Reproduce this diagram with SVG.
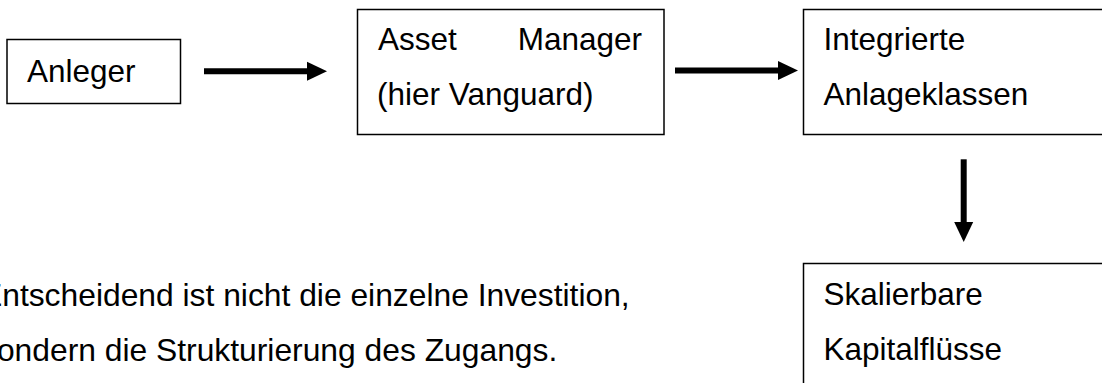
<svg xmlns="http://www.w3.org/2000/svg" width="1102" height="383" viewBox="0 0 1102 383">
  <style>
    .box { fill: #ffffff; stroke: #000000; stroke-width: 1.5; }
    .t { font-family: "Liberation Sans", Arial, sans-serif; font-size: 31.5px; fill: #000000; }
    .note { font-size: 31.8px; }
    .conn { stroke: #000000; stroke-width: 6; fill: none; }
  </style>
  <defs>
    <marker id="ah" markerUnits="userSpaceOnUse" markerWidth="20" markerHeight="20" viewBox="0 0 20 20" refX="10" refY="10" orient="auto">
      <path d="M0,0.5 L20,10 L0,19.5 Z" fill="#000000"/>
    </marker>
  </defs>
  <rect x="0" y="0" width="1102" height="383" fill="#ffffff"/>

  <g id="node-anleger">
    <rect class="box" x="7" y="39.5" width="173.5" height="64"/>
    <text class="t" x="27" y="81.5">Anleger</text>
  </g>

  <g id="node-asset-manager">
    <rect class="box" x="357.5" y="9.5" width="306.5" height="125"/>
    <text class="t" x="378" y="50">Asset</text>
    <text class="t" x="642" y="50" text-anchor="end">Manager</text>
    <text class="t" x="377" y="105">(hier Vanguard)</text>
  </g>

  <g id="node-anlageklassen">
    <rect class="box" x="803.5" y="9.5" width="310" height="125"/>
    <text class="t" x="823.5" y="49.5">Integrierte</text>
    <text class="t" x="823.5" y="105">Anlageklassen</text>
  </g>

  <g id="node-kapitalfluesse">
    <rect class="box" x="803.5" y="263.5" width="310" height="140"/>
    <text class="t" x="823.5" y="304.5">Skalierbare</text>
    <text class="t" x="823.5" y="359.5">Kapitalflüsse</text>
  </g>

  <g id="note">
    <text class="t note" x="-19" y="305.5">Entscheidend ist nicht die einzelne Investition,</text>
    <text class="t note" x="-19" y="361">sondern die Strukturierung des Zugangs.</text>
  </g>

  <g id="connectors">
    <line class="conn" x1="204" y1="71.2" x2="317" y2="71.2" marker-end="url(#ah)"/>
    <line class="conn" x1="675" y1="70.5" x2="788" y2="70.5" marker-end="url(#ah)"/>
    <line class="conn" x1="963.7" y1="159.3" x2="963.7" y2="232" marker-end="url(#ah)"/>
  </g>
</svg>
